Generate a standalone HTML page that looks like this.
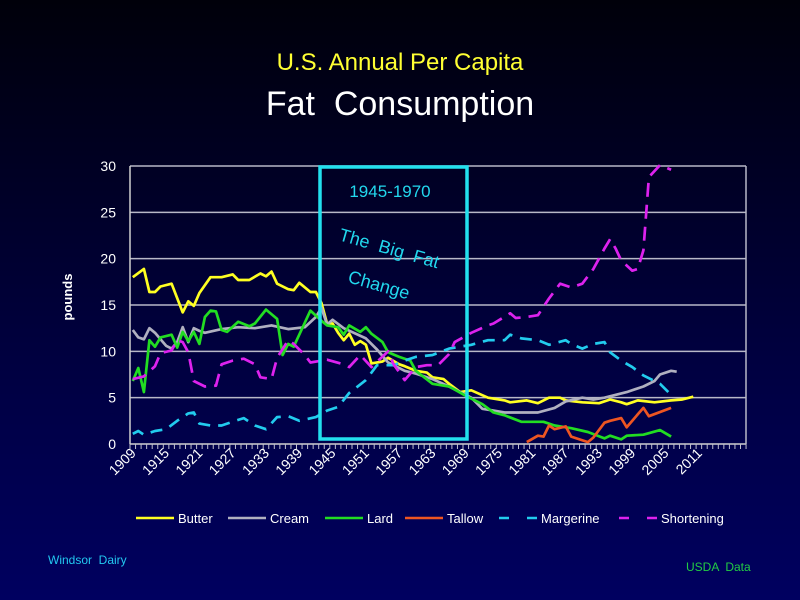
<!DOCTYPE html>
<html><head><meta charset="utf-8"><style>
body{margin:0;width:800px;height:600px;overflow:hidden;background:linear-gradient(#00000a,#000040 60%,#000060);font-family:"Liberation Sans",sans-serif}
svg{display:block}
</style></head><body>
<svg id="c" width="800" height="600" xmlns="http://www.w3.org/2000/svg">
<text x="400" y="70" fill="#ffff33" font-size="24" text-anchor="middle">U.S. Annual Per Capita</text>
<text x="400" y="115" fill="#ffffff" font-size="34" text-anchor="middle" xml:space="preserve">Fat  Consumption</text>
<text transform="translate(72,297) rotate(-90)" fill="#fff" font-size="13" font-weight="bold" text-anchor="middle">pounds</text>
<g id="grid"></g><g id="series"></g>
<rect x="320" y="167" width="147" height="272" fill="none" stroke="#22e0ee" stroke-width="3.5"/>
<text x="390" y="197" fill="#22d8ee" font-size="17" text-anchor="middle">1945-1970</text>
<text transform="translate(338,240) rotate(16)" fill="#22d8ee" font-size="18" xml:space="preserve">The  Big  Fat</text>
<text transform="translate(347,282) rotate(16)" fill="#22d8ee" font-size="18">Change</text>
<g id="legend" font-size="13" fill="#fff"></g>
<text x="48" y="564" fill="#22c8f0" font-size="12" xml:space="preserve">Windsor  Dairy</text>
<text x="686" y="571" fill="#22cc44" font-size="12" xml:space="preserve">USDA  Data</text>
</svg>
<script>
const yTicks=[0,5,10,15,20,25,30];
const xLabels=[1909,1915,1921,1927,1933,1939,1945,1951,1957,1963,1969,1975,1981,1987,1993,1999,2005,2011];
const butterYears=[1909,1911,1912,1913,1914,1916,1918,1919,1920,1921,1923,1925,1927,1928,1930,1932,1933,1934,1935,1937,1938,1939,1941,1942,1943,1944,1945,1946,1947,1948,1949,1950,1951,1952,1954,1955,1957,1958,1960,1962,1963,1965,1966,1968,1970,1973,1976,1977,1980,1982,1984,1986,1987,1990,1993,1995,1997,1998,2000,2003,2006,2008,2010];
const butterValues=[18.0,18.9,16.4,16.4,17.0,17.3,14.2,15.4,14.9,16.3,18.0,18.0,18.3,17.7,17.7,18.4,18.1,18.6,17.3,16.7,16.6,17.4,16.4,16.4,15.2,13.0,13.0,12.0,11.2,11.9,10.7,11.1,10.7,8.7,8.9,9.3,8.6,8.4,7.9,7.7,7.2,7.0,6.5,5.6,5.8,5.0,4.7,4.5,4.7,4.4,5.0,5.0,4.7,4.5,4.4,4.8,4.5,4.3,4.7,4.5,4.7,4.8,5.1];
const creamYears=[1909,1910,1911,1912,1913,1914,1915,1916,1917,1918,1919,1920,1921,1922,1925,1928,1931,1934,1937,1940,1942,1943,1944,1945,1947,1951,1953,1955,1958,1960,1963,1966,1970,1972,1974,1976,1982,1985,1987,1990,1992,1994,1998,2001,2003,2004,2006,2007];
const creamValues=[12.3,11.5,11.3,12.5,12.0,11.3,10.6,10.3,11.0,12.6,11.0,12.5,12.2,12.0,12.4,12.6,12.5,12.8,12.4,12.6,13.7,14.7,12.9,13.4,12.5,11.4,10.2,8.8,7.9,7.6,7.0,6.2,5.0,3.8,3.6,3.4,3.4,3.9,4.6,5.0,4.8,5.0,5.6,6.2,6.8,7.5,7.9,7.8];
const lardYears=[1909,1910,1911,1912,1913,1914,1916,1917,1918,1919,1920,1921,1922,1923,1924,1925,1926,1928,1930,1931,1933,1935,1936,1937,1938,1941,1943,1944,1946,1947,1948,1950,1951,1952,1954,1955,1957,1959,1960,1963,1966,1969,1972,1974,1976,1979,1983,1985,1988,1991,1994,1995,1997,1998,2001,2004,2006];
const lardValues=[6.8,8.2,5.6,11.2,10.5,11.5,11.8,10.4,12.1,11.1,12.1,10.8,13.7,14.4,14.3,12.3,12.1,13.2,12.7,13.0,14.5,13.5,9.6,10.8,10.5,14.4,13.3,12.8,12.6,11.8,12.8,12.1,12.6,11.9,11.0,9.9,9.4,9.0,7.9,6.5,6.2,5.2,4.3,3.4,3.1,2.4,2.4,2.0,1.7,1.3,0.6,0.9,0.5,0.9,1.0,1.5,0.8];
const tallowYears=[1980,1982,1983,1984,1985,1987,1988,1991,1992,1994,1995,1997,1998,2000,2001,2002,2006];
const tallowValues=[0.2,0.9,0.8,2.0,1.6,1.9,0.8,0.2,0.7,2.3,2.5,2.8,1.8,3.2,3.9,3.0,3.9];
const margYears=[1909,1910,1911,1913,1915,1917,1919,1920,1921,1923,1925,1928,1929,1931,1933,1935,1937,1939,1942,1944,1946,1948,1951,1953,1956,1958,1960,1963,1966,1970,1973,1976,1977,1979,1982,1984,1987,1988,1990,1992,1994,1995,1997,1999,2001,2004,2006];
const margValues=[1.1,1.4,1.0,1.4,1.6,2.5,3.3,3.4,2.2,2.0,2.0,2.6,2.8,2.0,1.6,2.9,3.0,2.5,2.9,3.6,4.0,5.5,6.9,8.5,8.5,9.0,9.4,9.6,10.3,10.7,11.2,11.2,11.8,11.4,11.2,10.7,11.2,10.8,10.3,10.8,11.0,9.9,9.0,8.3,7.4,6.5,5.3];
const shortYears=[1909,1911,1913,1914,1916,1917,1918,1919,1920,1922,1924,1925,1927,1929,1931,1932,1934,1935,1937,1938,1940,1941,1944,1947,1948,1950,1952,1955,1956,1958,1960,1962,1964,1966,1967,1970,1973,1974,1977,1978,1980,1982,1984,1986,1988,1990,1992,1994,1995,1996,1997,1999,2000,2001,2002,2004,2006];
const shortValues=[7.0,7.3,8.4,9.8,10.1,11.2,11.0,9.9,6.8,6.2,6.3,8.6,9.0,9.2,8.6,7.2,7.0,9.3,11.2,10.8,9.6,8.8,9.1,8.6,8.3,9.6,8.3,10.0,8.6,6.9,8.3,8.5,8.5,9.7,11.0,12.0,12.8,13.0,14.1,13.6,13.7,13.9,15.7,17.3,16.9,17.3,18.9,21.1,22.1,21.1,19.8,18.7,18.9,20.9,28.8,30.1,29.6];

const NS='http://www.w3.org/2000/svg';
const L=130,R=746,T=166,B=444,perYear=5.55;
const xs=y=>L+(y-1909+0.5)*perYear;
const ys=v=>B-(v/30)*(B-T);
function mk(tag,attrs,parent){const e=document.createElementNS(NS,tag);for(const k in attrs)e.setAttribute(k,attrs[k]);parent.appendChild(e);return e;}
const grid=document.getElementById('grid');
yTicks.forEach(v=>{
  const ln=mk('line',{x1:L,x2:R,y1:ys(v),y2:ys(v),stroke:v===0?'#d0d0d0':'#b8b8c8','stroke-width':1.5},grid);
  
  
  const t=mk('text',{x:116,y:ys(v)+5,fill:'#fff','font-size':14,'text-anchor':'end'},grid);
  t.textContent=v;
  
  
});
const rl=mk('line',{x1:R,x2:R,y1:T,y2:B,stroke:'#b8b8c8','stroke-width':1.5},grid);


const yl=mk('line',{x1:L,x2:L,y1:T,y2:B,stroke:'#d0d0d0','stroke-width':1.5},grid);


for(let i=0;i<=111;i++){const x=L+i*perYear;const tk=mk('line',{x1:x,x2:x,y1:B,y2:B+5,stroke:'#c0c0d0','stroke-width':1},grid);
  
  }
xLabels.forEach(yr=>{
  const x=xs(yr)+4;
  const t=mk('text',{transform:`translate(${x},${B+10}) rotate(-45)`,fill:'#fff','font-size':14,'text-anchor':'end'},grid);
  t.textContent=yr;
  
  
});
const series=[
 ['butter',butterYears,butterValues,'#ffff22',null],
 ['cream',creamYears,creamValues,'#b0b0c0',null],
 ['lard',lardYears,lardValues,'#22dd22',null],
 ['tallow',tallowYears,tallowValues,'#ee5522',null],
 ['margerine',margYears,margValues,'#22ccee','12,8'],
 ['shortening',shortYears,shortValues,'#dd22ee','14,8']
];
const sg=document.getElementById('series');
series.forEach(s=>{
  const d=s[1].map((y,i)=>(i?'L':'M')+xs(y).toFixed(1)+','+ys(s[2][i]).toFixed(1)).join('');
  const a={d:d,fill:'none',stroke:s[3],'stroke-width':2.7,'stroke-linejoin':'round'};
  if(s[4])a['stroke-dasharray']=s[4];
  const p=mk('path',a,sg);
  
  
});
const leg=document.getElementById('legend');
const legItems=[['Butter',136,'#ffff22',null],['Cream',228,'#b0b0c0',null],['Lard',325,'#22dd22',null],['Tallow',405,'#ee5522',null],['Margerine',499,'#22ccee','10,18'],['Shortening',619,'#dd22ee','10,18']];
legItems.forEach(it=>{
  const a={x1:it[1],x2:it[1]+38,y1:518,y2:518,stroke:it[2],'stroke-width':2.5};
  if(it[3])a['stroke-dasharray']=it[3];
  const ln=mk('line',a,leg);
  
  
  const t=mk('text',{x:it[1]+42,y:523},leg);
  t.textContent=it[0];
  
  
});
</script>
</body></html>
